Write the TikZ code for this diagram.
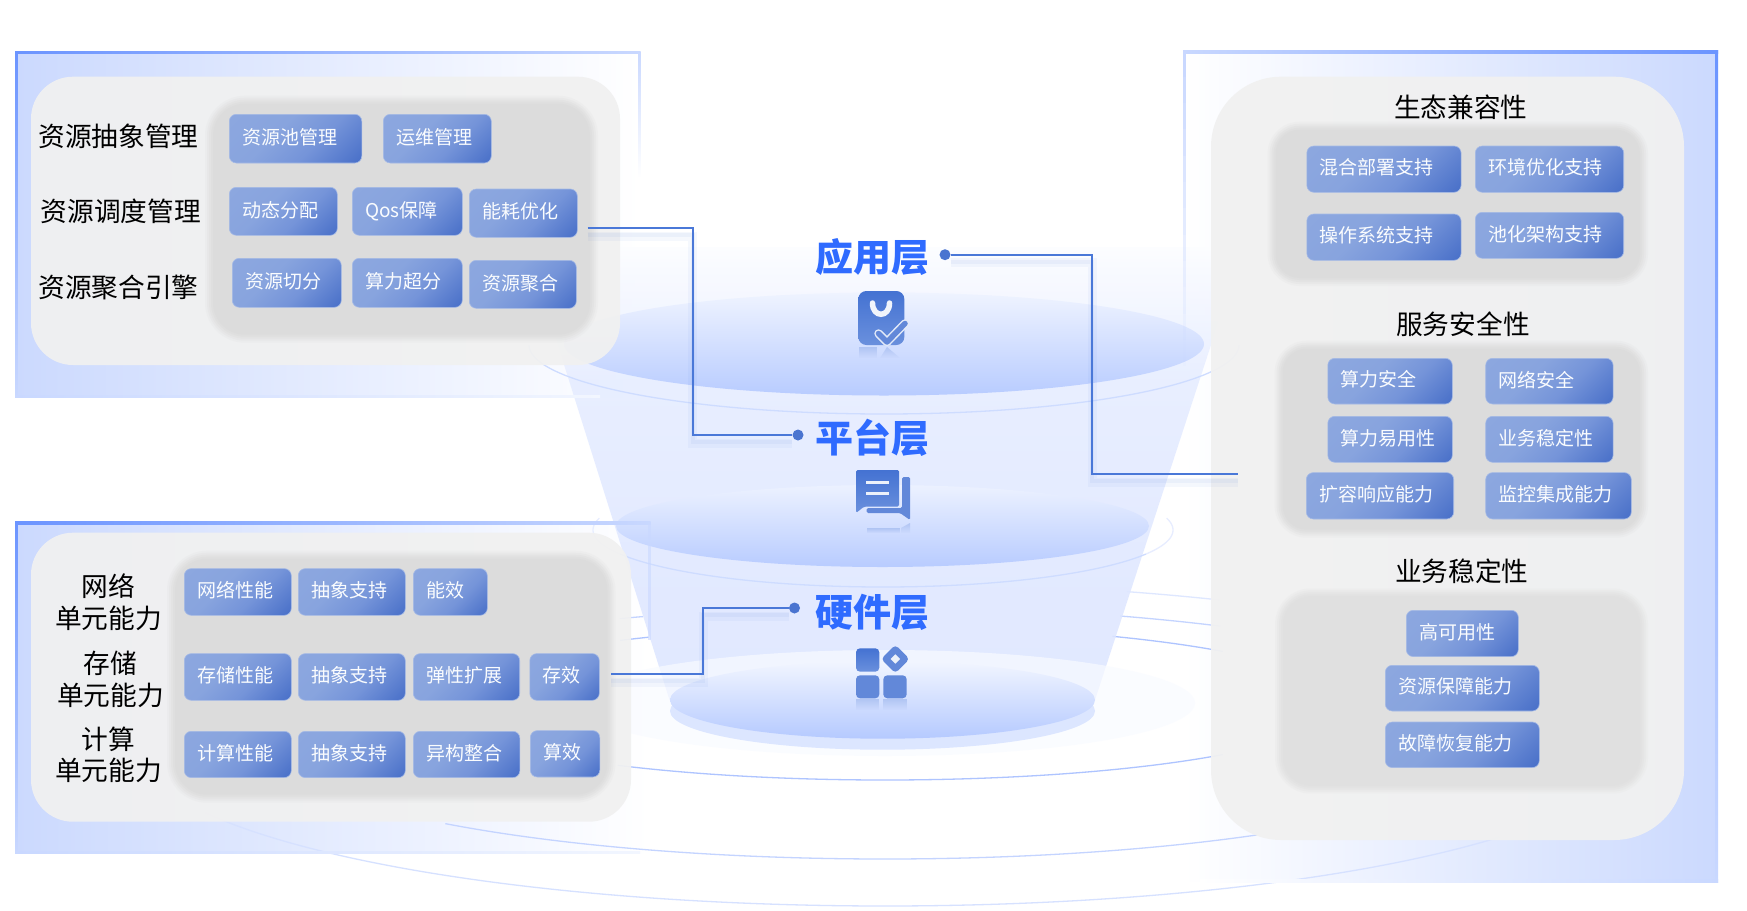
\documentclass[tikz,border=0pt]{standalone}
\usepackage{fontspec}
\setmainfont{Noto Sans CJK SC}
\usetikzlibrary{fadings}
\definecolor{boxa}{HTML}{8FA9E0}
\definecolor{boxb}{HTML}{88A4DE}
\definecolor{boxc}{HTML}{7594D9}
\definecolor{boxd}{HTML}{486FC8}
\definecolor{funa}{HTML}{DCE5FF}
\definecolor{funb}{HTML}{E5ECFF}
\definecolor{func}{HTML}{FCFDFF}
\definecolor{rimstrong}{HTML}{6B94FF}
\definecolor{rimpale}{HTML}{C9D8FF}
\definecolor{rimfaint}{HTML}{F2F6FF}
\definecolor{rectblue}{HTML}{CBD9FE}
\definecolor{conncol}{HTML}{4A78D8}
\definecolor{dotcol}{HTML}{4A74D0}
\definecolor{layercol}{HTML}{2F6BFF}
\definecolor{lightp}{HTML}{F1F1F1}
\definecolor{darkp}{HTML}{DCDCDC}
\definecolor{darkq}{HTML}{E0E0E0}
\definecolor{icona}{HTML}{4472D2}
\definecolor{iconb}{HTML}{6A90DD}
\definecolor{iconc}{HTML}{6288D9}
\pgfdeclarehorizontalshading{boxgrad}{100bp}{color(0bp)=(boxa); color(40bp)=(boxb); color(60bp)=(boxc); color(85bp)=(boxd); color(100bp)=(boxd)}
\pgfdeclareverticalshading{fungrad}{100bp}{color(0bp)=(funa); color(25bp)=(funa); color(60bp)=(funb); color(75bp)=(func); color(100bp)=(func)}
\tikzset{
  blockbox/.style={shade,shading=boxgrad,shading angle=-45,draw=boxa!80!white,line width=.6pt,rounded corners=7pt,
    anchor=north west,inner xsep=13pt,inner ysep=0pt,align=left,text=white!96!boxa,
    font=\fontsize{19}{23}\selectfont},
  lbl/.style={align=center,inner sep=0pt,text=black,font=\fontsize{26.7}{31.5}\selectfont},
  layertitle/.style={inner sep=0pt,text=layercol,font=\fontsize{38}{40}\selectfont\bfseries},
  conn/.style={draw=conncol,line width=1.8pt,line join=miter,
    preaction={draw=conncol,line width=9pt,draw opacity=.05,transform canvas={yshift=-8pt}},
    preaction={draw=conncol,line width=4pt,draw opacity=.06,transform canvas={yshift=-7pt}}},
  conndot/.style={circle,fill=dotcol,inner sep=0pt,minimum size=11pt},
  iconfill/.style={top color=icona,bottom color=iconb},
  reflect/.style={fill=iconc,fill opacity=.3,path fading=south},
  ring/.style={line width=1.3pt},
}
\newcommand{\blk}[6]{%
  \pgfmathsetmacro\bw{#4-#2-26}\pgfmathsetmacro\bh{#5-#3}%
  \node[blockbox,text width=\bw pt,minimum height=\bh pt] (#1) at (#2,#3) {\raisebox{4.5pt}{#6}};}
\newcommand{\softp}[6]{%
  \pgfmathsetmacro\ra{#5}\pgfmathsetmacro\rb{#5-2}\pgfmathsetmacro\rc{#5-4}\pgfmathsetmacro\rd{#5-6}\pgfmathsetmacro\re{#5-8}%
  \fill[#6,fill opacity=.18,rounded corners=\ra pt] (#1-1,#2-1) rectangle (#3+1,#4+1);
  \fill[#6,fill opacity=.25,rounded corners=\rb pt] (#1+1,#2+1) rectangle (#3-1,#4-1);
  \fill[#6,fill opacity=.35,rounded corners=\rc pt] (#1+3,#2+3) rectangle (#3-3,#4-3);
  \fill[#6,fill opacity=.5,rounded corners=\rd pt] (#1+5,#2+5) rectangle (#3-5,#4-5);
  \fill[#6,fill opacity=.85,rounded corners=\re pt] (#1+7,#2+7) rectangle (#3-7,#4-7);}
\newcommand{\ringarc}[7]{\draw[ring,#7] plot[domain=#5:#6,samples=70,smooth] ({#1+#3*cos(\x)},{#2+#4*sin(\x)});}
\begin{document}
\begin{tikzpicture}[x=1pt,y=-1pt]
\useasboundingbox (0,0) rectangle (1747,910);
\fill[white] (0,0) rectangle (1747,910);
% rectangle backgrounds
\shade[left color=rectblue,right color=white] (15.6,51.7) rectangle (640,397);
\shade[left color=rectblue,right color=white] (15.6,521.7) rectangle (650,853);
\shade[left color=white,right color=rectblue] (1183,50.7) rectangle (1717.7,881.7);
% rings
\ringarc{885}{703}{455}{77}{42}{126}{draw=rimstrong!55!white}
\ringarc{885}{733}{633}{126}{54}{134}{draw=rimstrong!40!white}
\ringarc{885}{744.5}{750}{161.5}{35}{155}{draw=rimstrong!28!white}
\ringarc{885}{703}{455}{77}{-60}{-42}{draw=rimstrong!55!white}
\ringarc{885}{733}{633}{126}{-68.2}{-58}{draw=rimstrong!40!white}
\ringarc{885}{744.5}{750}{161.5}{-71.2}{-63.5}{draw=rimstrong!22!white}
\ringarc{885}{703}{455}{77}{-125.6}{-121.3}{draw=rimstrong!55!white}
\ringarc{885}{733}{633}{126}{-114.8}{-112.5}{draw=rimstrong!40!white}
% funnel
\shade[shading=fungrad,fill opacity=.88] (527,247) -- (1243,247) -- (1095,700) -- (669.5,700) -- cycle;
% pale ground ellipse and bottom disk
\fill[fill=white!93!rimstrong!60!white,fill opacity=.7] (885,703) ellipse [x radius=310,y radius=53];
\fill[fill=rimpale!65!white] (882.5,711) ellipse [x radius=212.5,y radius=38.7];
\shade[top color=white!75!rimpale,bottom color=rimstrong!50!white] (882.5,700) ellipse [x radius=212.5,y radius=38.7];
% middle disk
\ringarc{883}{530}{290}{57}{-12}{25}{draw=rimpale!45!white}
\ringarc{883}{530}{290}{57}{155}{192}{draw=rimpale!45!white}
\ringarc{883}{530}{290}{57}{25}{155}{draw=rimpale!90!white}
\shade[top color=white!65!rimpale,bottom color=rimstrong!48!white] (882.5,526) ellipse [x radius=266.5,y radius=41];
% top disk
\ringarc{884}{345}{355}{69}{0}{180}{draw=rimpale!90!white}
\shade[top color=white!70!rimpale,middle color=white!20!rimpale,bottom color=rimstrong!48!white] (884,344) ellipse [x radius=320,y radius=51.5];
% rectangle rims
\shade[left color=rimstrong,right color=rimpale] (15.2,51.2) rectangle (640,53.7);
\shade[top color=rimstrong,bottom color=rimpale] (15.2,51.2) rectangle (17.7,397.5);
\shade[left color=rimpale,right color=rimfaint] (15.2,395) rectangle (600,397.5);
\shade[top color=rimpale,bottom color=white] (638,51.2) rectangle (640.5,178);
\shade[left color=rimstrong,right color=rimpale] (15.2,521.5) rectangle (650.5,524);
\shade[top color=rimstrong,bottom color=rimpale] (15.2,521.5) rectangle (17.7,853.5);
\shade[left color=rimpale,right color=rimfaint] (15.2,851) rectangle (640,853.5);
\fill[rimpale,fill opacity=.6] (648,521.5) rectangle (650.5,640);
\shade[left color=rimpale,right color=rimstrong] (1183,50.5) rectangle (1718,53);
\shade[top color=rimstrong,bottom color=rimpale] (1715.5,50.5) rectangle (1718,882);
\shade[left color=white,right color=rimpale] (1200,879.5) rectangle (1718,882);
\foreach \k in {0,...,11}{
  \pgfmathsetmacro\oa{1-\k/12}
  \fill[rimpale,fill opacity=\oa] (1183,50.5+26.3*\k) rectangle (1185.5,50.5+26.3*\k+26.3);
}
% gray panels
\fill[lightp,fill opacity=.93,rounded corners=42pt] (31,76.7) rectangle (620,365);
\fill[lightp,fill opacity=.93,rounded corners=42pt] (31,532.7) rectangle (631,821.7);
\fill[lightp,fill opacity=.95,rounded corners=70pt] (1211,76.7) rectangle (1684,840);
\softp{206}{96.7}{597}{341.7}{40}{darkp}
\softp{168}{551.7}{614.5}{801.7}{40}{darkp}
\softp{1268.6}{122.7}{1647}{285}{32}{darkp}
\softp{1275.6}{341.7}{1647}{536.7}{32}{darkp}
\softp{1276}{589.3}{1647}{792.7}{36}{darkq}
% upper left labels and blocks
\node[lbl] (la) at (118.5,136) {资源抽象管理};
\node[lbl] (lb) at (120.8,211) {资源调度管理};
\node[lbl] (lc) at (118.5,287) {资源聚合引擎};
\blk{ua}{229}{114}{361.5}{162.7}{资源池管理}
\blk{ub}{383}{114}{491}{162.7}{运维管理}
\blk{uc}{229}{187}{337}{235}{动态分配}
\blk{ud}{352}{187}{462}{235}{Qos保障}
\blk{ue}{469}{188.7}{577}{237}{能耗优化}
\blk{uf}{232}{258}{341}{307}{资源切分}
\blk{ug}{352}{258}{462}{307}{算力超分}
\blk{uh}{469}{260}{576}{308}{资源聚合}
% lower left
\node[lbl] (lh) at (108.5,602) {网络\\单元能力};
\node[lbl] (li) at (110.5,679.5) {存储\\单元能力};
\node[lbl] (lj) at (108.5,755) {计算\\单元能力};
\blk{da}{184}{568.3}{291}{615}{网络性能}
\blk{db}{298}{568.3}{405}{615}{抽象支持}
\blk{dc}{413}{568.3}{487}{615}{能效}
\blk{dd}{184}{653.3}{291}{700}{存储性能}
\blk{de}{298}{653.3}{405}{700}{抽象支持}
\blk{df}{413}{653.3}{519.4}{700}{弹性扩展}
\blk{dg}{529.5}{653.3}{599}{700}{存效}
\blk{dh}{184}{731}{291}{777.3}{计算性能}
\blk{di}{298}{731}{405}{777.3}{抽象支持}
\blk{dj}{413}{731}{519.6}{777.3}{异构整合}
\blk{dk}{530}{730.3}{599.5}{776.7}{算效}
% right
\node[lbl] (rt1) at (1460.8,107.5) {生态兼容性};
\node[lbl] (rt2) at (1463,324) {服务安全性};
\node[lbl] (rt3) at (1461.9,571) {业务稳定性};
\blk{ra}{1306.5}{145.7}{1460.8}{192}{混合部署支持}
\blk{rb}{1475}{145.7}{1623.4}{192}{环境优化支持}
\blk{rc}{1306.5}{213.7}{1460.8}{260}{操作系统支持}
\blk{rd}{1475}{212}{1623.4}{258}{池化架构支持}
\blk{re}{1327.5}{358}{1452}{403.7}{算力安全}
\blk{rf}{1485.4}{358}{1612.8}{403.7}{网络安全}
\blk{rg}{1327.5}{416}{1452}{462}{算力易用性}
\blk{rh}{1485.4}{416}{1612.8}{462}{业务稳定性}
\blk{ri}{1306}{472.3}{1453.4}{518.7}{扩容响应能力}
\blk{rj}{1485.4}{472.3}{1631}{518.7}{监控集成能力}
\blk{rk}{1406}{610}{1518}{656.3}{高可用性}
\blk{rl}{1385}{665}{1539}{710.7}{资源保障能力}
\blk{rm}{1385}{721.7}{1539}{767.3}{故障恢复能力}
% layer titles
\node[layertitle] (ly1) at (872.5,257) {应用层};
\node[layertitle] (ly2) at (872.5,438) {平台层};
\node[layertitle] (ly3) at (872.5,612.5) {硬件层};
% connectors
\node[conndot] (d1) at (945,254.7) {};
\node[conndot] (d2) at (798,435) {};
\node[conndot] (d3) at (794.5,608) {};
\coordinate (s2) at (587.5,228);
\coordinate (k2) at (692.7,435);
\coordinate (s1) at (1238,474);
\coordinate (k1) at (1092,254.7);
\coordinate (s3) at (611.4,674);
\coordinate (k3) at (703,608);
\draw[conn] (s2) -| (k2) -- (d2);
\draw[conn] (d1) -- (k1) |- (s1);
\draw[conn] (s3) -| (k3) -- (d3);
% icon application
\fill[reflect] (858.5,347) rectangle (877,358);
\fill[reflect] (887,347) -- (880,358) -- (900,358) -- cycle;
\shade[iconfill,rounded corners=8pt] (858.3,291) rectangle (904.3,345);
\draw[white!92!icona,line width=5.5pt,line cap=round] (872.5,303) .. controls (872.5,318) and (889.5,318) .. (889.5,303);
\draw[white!85!icona,line width=8.5pt,line cap=round,line join=round] (878.5,333.5) -- (887,342) -- (905,323.5);
\draw[iconc,line width=5.5pt,line cap=round,line join=round] (878.5,333.5) -- (887,342) -- (905,323.5);
% icon platform
\fill[reflect] (867,528) rectangle (900,533);
\fill[reflect] (901,528) -- (910,523) -- (910,533) -- (901,533) -- cycle;
\fill[iconc,rounded corners=1.5pt] (902,477) -- (910,477) -- (910,520) -- (900,513) -- (866.7,513) -- (866.7,508) -- (902,508) -- cycle;
\shade[iconfill,rounded corners=1.5pt] (856,470) -- (899,470) -- (899,506.7) -- (864,506.7) -- (856,513) -- cycle;
\fill[white!90!icona] (865.7,481.2) rectangle (889.3,484.2);
\fill[white!90!icona] (865.7,491.5) rectangle (889.3,494.5);
% icon hardware
\fill[reflect] (856,699) rectangle (879.3,710);
\fill[reflect] (883.3,699) rectangle (906.7,710);
\shade[iconfill,rounded corners=4pt] (856,648.3) rectangle (879.3,671.7);
\fill[iconc,rounded corners=4pt] (856,675.3) rectangle (879.3,698.3);
\fill[iconc,rounded corners=4pt] (883.3,675.3) rectangle (906.7,698.3);
\fill[iconc,rounded corners=4pt] (895.3,644.7) -- (909.6,659) -- (895.3,673.3) -- (881,659) -- cycle;
\fill[white!90!icona] (895.3,654.3) -- (900,659) -- (895.3,663.7) -- (890.6,659) -- cycle;
\end{tikzpicture}
\end{document}
